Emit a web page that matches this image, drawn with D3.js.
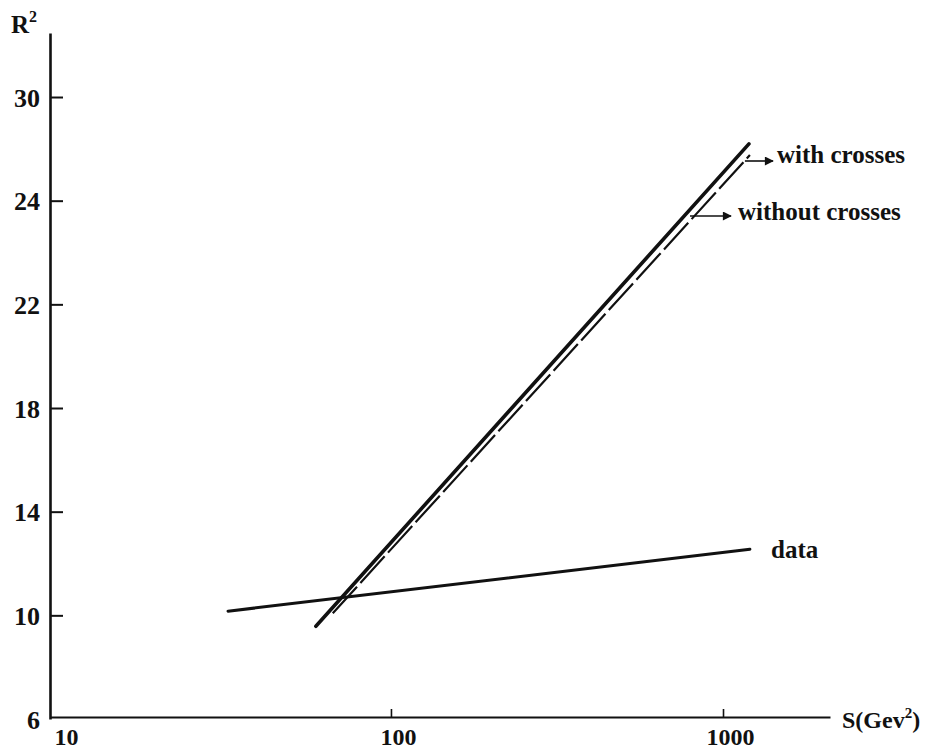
<!DOCTYPE html>
<html>
<head>
<meta charset="utf-8">
<script src="https://cdn.jsdelivr.net/npm/d3@7"></script>
<style>
  html, body { margin: 0; padding: 0; background: #fff; }
  svg text { font-family: "Liberation Serif", "Times New Roman", serif; fill: #111; }
</style>
</head>
<body>
<svg id="chart" width="936" height="754"></svg>
<script>
// ---- data ----
const xTickValues = [10, 100, 1000];
const xTickLabels = ["10", "100", "1000"];
const yTickValues = [6, 10, 14, 18, 22, 26, 30];
const yTickLabels = ["6", "10", "14", "18", "22", "24", "30"];

const withCrossesS = [59.4, 1197];
const withCrossesR = [9.58, 28.19];

const withoutCrossesS = [66.8, 1205];
const withoutCrossesR = [10.08, 27.76];

const dataS = [32.3, 1205];
const dataR = [10.16, 12.55];

const seriesNames = ["with crosses", "without crosses", "data"];

// ---- layout ----
const svg = d3.select("#chart");
const x = d3.scaleLog().domain([9.4, 2100]).range([50, 830]);
const y = d3.scaleLinear().domain([6, 32.47]).range([719, 33]);

const ink = "#111";

// y axis
const yAxis = d3.axisLeft(y)
  .tickValues(yTickValues)
  .tickFormat((d, i) => yTickLabels[i])
  .tickSizeInner(-13).tickSizeOuter(0).tickPadding(24);
const gy = svg.append("g").attr("transform", `translate(${x.range()[0]},0)`).call(yAxis);
gy.select(".domain").attr("stroke", ink).attr("stroke-width", 2.6);
gy.selectAll(".tick line").attr("stroke", ink).attr("stroke-width", 2)
  .filter(d => d === 6).remove();
gy.selectAll(".tick text").attr("font-size", 26).attr("font-weight", "bold")
  .attr("text-anchor", "end").attr("x", -10).attr("dy", "0.35em").style("font-family", "Liberation Serif");

// x axis
const xAxis = d3.axisBottom(x)
  .tickValues(xTickValues)
  .tickFormat((d, i) => xTickLabels[i])
  .tickSizeInner(-8).tickSizeOuter(0).tickPadding(0);
const gx = svg.append("g").attr("transform", `translate(0,${y.range()[0] - 2})`).call(xAxis);
gx.select(".domain").attr("stroke", ink).attr("stroke-width", 2);
gx.selectAll(".tick line").attr("stroke", ink).attr("stroke-width", 1.6)
  .filter(d => d === 10).remove();
gx.selectAll(".tick text").attr("font-size", 24).attr("font-weight", "bold")
  .attr("x", 7).attr("y", 28).attr("dy", 0).style("font-family", "Liberation Serif");

// axis titles
const rt = svg.append("text").attr("x", 11).attr("y", 33).attr("font-size", 25).attr("font-weight", "bold");
rt.append("tspan").text("R");
rt.append("tspan").attr("font-size", 16).attr("dy", -11).text("2");

const st = svg.append("text").attr("x", 842).attr("y", 728).attr("font-size", 24).attr("font-weight", "bold");
st.append("tspan").text("S(Gev");
st.append("tspan").attr("font-size", 15).attr("dy", -10).text("2");
st.append("tspan").attr("dy", 10).text(")");

// ---- lines ----
const line = d3.line().x(d => x(d[0])).y(d => y(d[1]));
const zip = (a, b) => a.map((v, i) => [v, b[i]]);

svg.append("path").datum(zip(dataS, dataR)).attr("d", line)
  .attr("fill", "none").attr("stroke", ink).attr("stroke-width", 3).attr("stroke-linecap", "round");

svg.append("path").datum(zip(withoutCrossesS, withoutCrossesR)).attr("d", line)
  .attr("fill", "none").attr("stroke", ink).attr("stroke-width", 2.2)
  .attr("stroke-dasharray", "36,5");

svg.append("path").datum(zip(withCrossesS, withCrossesR)).attr("d", line)
  .attr("fill", "none").attr("stroke", ink).attr("stroke-width", 3.6).attr("stroke-linecap", "round");

// ---- labels with arrows ----
svg.append("defs").append("marker")
  .attr("id", "arr").attr("viewBox", "0 0 10 10").attr("refX", 9).attr("refY", 5)
  .attr("markerWidth", 11).attr("markerHeight", 9).attr("markerUnits", "userSpaceOnUse")
  .attr("orient", "auto")
  .append("path").attr("d", "M0,0 L10,5 L0,10 z").attr("fill", ink);

const withArrowY = 161;
const withArrowX0 = x(withoutCrossesS[1]) - 5;
svg.append("line").attr("x1", withArrowX0).attr("y1", withArrowY).attr("x2", 773).attr("y2", withArrowY)
  .attr("stroke", ink).attr("stroke-width", 1.6).attr("marker-end", "url(#arr)");
svg.append("text").attr("x", 777).attr("y", 163).attr("font-size", 25).attr("font-weight", "bold")
  .text(seriesNames[0]);

svg.append("line").attr("x1", 690).attr("y1", 216).attr("x2", 731).attr("y2", 216)
  .attr("stroke", ink).attr("stroke-width", 1.6).attr("marker-end", "url(#arr)");
svg.append("text").attr("x", 738).attr("y", 220).attr("font-size", 25).attr("font-weight", "bold")
  .text(seriesNames[1]);

svg.append("text").attr("x", 771).attr("y", 558).attr("font-size", 25).attr("font-weight", "bold")
  .text(seriesNames[2]);
</script>
</body>
</html>
